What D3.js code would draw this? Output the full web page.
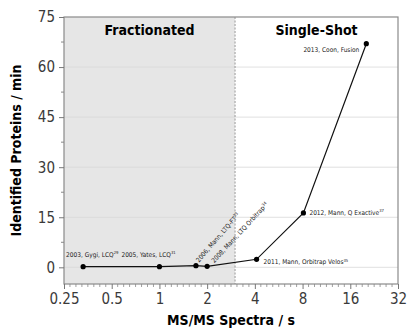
<!DOCTYPE html>
<html>
<head>
<meta charset="utf-8">
<script src="https://cdn.jsdelivr.net/npm/d3@7"></script>
<style>
  body { margin: 0; background: #fff; }
  svg { display: block; }
  text { font-family: "DejaVu Sans", sans-serif; font-stretch: condensed; }
</style>
</head>
<body>
<div id="chart"></div>
<script>
// instrument milestones: spectra per second vs identified proteins per minute
const labels = ["2003, Gygi, LCQ", "2005, Yates, LCQ", "2006, Mann, LTQ-FT", "2008, Mann, LTQ Orbitrap",
                "2011, Mann, Orbitrap Velos", "2012, Mann, Q Exactive", "2013, Coon, Fusion"]
const refs = ["29", "31", "33", "34", "35", "37", ""]
const spectraPerSec = [0.33, 1.0, 1.7, 2.0, 4.1, 8.1, 20.2]
const proteinsPerMin = [0.2, 0.2, 0.5, 0.3, 2.4, 16.3, 67]
const xTicks = [0.25, 0.5, 1, 2, 4, 8, 16, 32]
const yTicks = [0, 15, 30, 45, 60, 75]
const splitAt = 3 // fractionated | single-shot boundary

const width = 409, height = 328
const margin = { top: 17, right: 11, bottom: 44, left: 64 }

const svg = d3.select("#chart").append("svg")
  .attr("width", width)
  .attr("height", height)

const x = d3.scaleLog().base(2)
  .domain([0.25, 32])
  .range([margin.left, width - margin.right])

const y = d3.scaleLinear()
  .domain([-5, 75])
  .range([height - margin.bottom, margin.top])

const x0 = x.range()[0], x1 = x.range()[1]
const y0 = y.range()[0], y1 = y.range()[1]

// shaded fractionated region
svg.append("rect")
  .attr("x", x0).attr("y", y1)
  .attr("width", x(splitAt) - x0).attr("height", y0 - y1)
  .attr("fill", "#e6e6e6")

// horizontal grid
svg.append("g")
  .selectAll("line")
  .data(yTicks.slice(0, -1))
  .join("line")
  .attr("x1", x0).attr("x2", x1)
  .attr("y1", d => y(d)).attr("y2", d => y(d))
  .attr("stroke", "#d8d8d8")
  .attr("stroke-width", 0.8)

// split line
svg.append("line")
  .attr("x1", x(splitAt)).attr("x2", x(splitAt))
  .attr("y1", y1).attr("y2", y0)
  .attr("stroke", "#999")
  .attr("stroke-dasharray", "2,1.5")

// frame
svg.append("rect")
  .attr("x", x0).attr("y", y1)
  .attr("width", x1 - x0).attr("height", y0 - y1)
  .attr("fill", "none")
  .attr("stroke", "#8a8a8a")
  .attr("stroke-width", 1.2)

// x minor ticks, 8 steps per doubling
let xMinor = []
xTicks.slice(0, -1).forEach(t => {
  for (let k = 1; k < 8; k++) xMinor.push(t * Math.pow(2, k / 8))
})

const xAxis = g => g
  .attr("transform", `translate(0,${y0})`)
  .call(d3.axisBottom(x).tickValues(xTicks).tickFormat(d => d).tickSize(5).tickPadding(4))
  .call(g => g.select(".domain").remove())
  .call(g => g.selectAll(".tick line").attr("stroke", "#777"))
  .call(g => g.selectAll(".tick text").attr("font-size", 15).attr("fill", "#3a3a3a")
    .style("font-family", "DejaVu Sans").style("font-stretch", "condensed"))

svg.append("g").call(xAxis)

svg.append("g")
  .selectAll("line")
  .data(xMinor)
  .join("line")
  .attr("x1", d => x(d)).attr("x2", d => x(d))
  .attr("y1", y0).attr("y2", y0 + 3)
  .attr("stroke", "#888")
  .attr("stroke-width", 0.8)

const yAxis = g => g
  .attr("transform", `translate(${x0},0)`)
  .call(d3.axisLeft(y).tickValues(yTicks).tickSize(5).tickPadding(4))
  .call(g => g.select(".domain").remove())
  .call(g => g.selectAll(".tick line").attr("stroke", "#777"))
  .call(g => g.selectAll(".tick text").attr("font-size", 15).attr("fill", "#3a3a3a")
    .style("font-family", "DejaVu Sans").style("font-stretch", "condensed"))

svg.append("g").call(yAxis)

svg.append("g")
  .selectAll("line")
  .data(yTicks.slice(0, -1).map(d => d + 7.5))
  .join("line")
  .attr("x1", x0 - 3).attr("x2", x0)
  .attr("y1", d => y(d)).attr("y2", d => y(d))
  .attr("stroke", "#888")

// axis titles
svg.append("text")
  .attr("x", (x0 + x1) / 2).attr("y", height - 3)
  .attr("text-anchor", "middle")
  .attr("font-size", 14).attr("font-weight", "bold")
  .text("MS/MS Spectra / s")

svg.append("text")
  .attr("transform", `translate(21,${(y0 + y1) / 2}) rotate(-90)`)
  .attr("text-anchor", "middle")
  .attr("font-size", 14).attr("font-weight", "bold")
  .text("Identified Proteins / min")

// region titles
svg.append("text")
  .attr("x", (x0 + x(splitAt)) / 2).attr("y", 35)
  .attr("text-anchor", "middle")
  .attr("font-size", 14).attr("font-weight", "bold")
  .text("Fractionated")

svg.append("text")
  .attr("x", (x(splitAt) + x1) / 2).attr("y", 35)
  .attr("text-anchor", "middle")
  .attr("font-size", 14).attr("font-weight", "bold")
  .text("Single-Shot")

// series
const pts = spectraPerSec.map((v, i) => ({ v, p: proteinsPerMin[i], label: labels[i], ref: refs[i] }))

const line = d3.line()
  .x(d => x(d.v))
  .y(d => y(d.p))

svg.append("path")
  .datum(pts)
  .attr("fill", "none")
  .attr("stroke", "#111")
  .attr("stroke-width", 1.2)
  .attr("d", line)

svg.append("g")
  .selectAll("circle")
  .data(pts)
  .join("circle")
  .attr("cx", d => x(d.v))
  .attr("cy", d => y(d.p))
  .attr("r", 2.6)
  .attr("fill", "#000")

// point labels: [dx, dy, anchor, rotation]
const labelPos = [
  [-17, -10, "start", 0],
  [-38, -10, "start", 0],
  [3, -3, "start", -49],
  [7, -3, "start", -47],
  [7, 5, "start", 0],
  [6, 2, "start", 0],
  [-7, 8, "end", 0]
]

const lbl = svg.append("g")
  .selectAll("text")
  .data(pts)
  .join("text")
  .attr("transform", (d, i) => {
    const [dx, dy, , rot] = labelPos[i]
    return `translate(${x(d.v) + dx},${y(d.p) + dy}) rotate(${rot})`
  })
  .attr("text-anchor", (d, i) => labelPos[i][2])
  .attr("font-size", 6.5)
  .attr("fill", "#222")

lbl.append("tspan").text(d => d.label)
lbl.append("tspan")
  .attr("font-size", 4.2)
  .attr("dy", -2.5)
  .text(d => d.ref)
</script>
</body>
</html>
